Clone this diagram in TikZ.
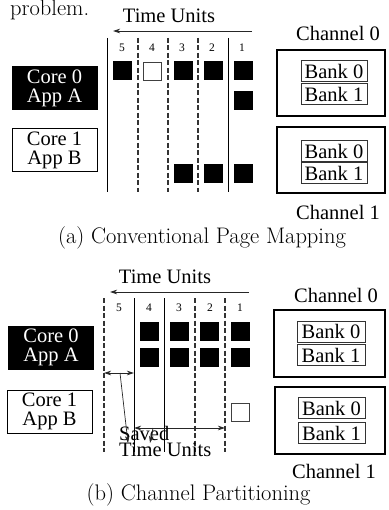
\documentclass[tikz,border=0pt]{standalone}
\usepackage{fontspec}
\newfontfamily\figfont{Liberation Serif}
\usetikzlibrary{arrows.meta}

\tikzset{
  lbl/.style={font=\figfont\fontsize{20.5}{19}\selectfont, inner sep=0pt},
  colnum/.style={font=\figfont\fontsize{11.5}{11.5}\selectfont, inner sep=0pt, anchor=base},
  caption/.style={font=\fontsize{22.5}{24}\selectfont, inner sep=0pt, anchor=base},
  corebox/.style={lbl, align=center, draw, line width=1pt,
    minimum width=85pt, minimum height=43pt},
  coreA/.style={corebox, fill=black, text=white},
  coreB/.style={corebox, fill=white},
  chanbox/.style={draw, line width=1.2pt, minimum width=108pt, minimum height=66pt},
  bankbox/.style={lbl, draw=black!80, line width=0.8pt, minimum width=66pt, minimum height=21pt},
  busy/.style={fill=black, minimum size=19pt, inner sep=0pt},
  idle/.style={draw=black!75, fill=white, line width=0.8pt, minimum size=18pt, inner sep=0pt},
  solidsep/.style={line width=0.9pt},
  dashsep/.style={line width=1.1pt, black!80, dash pattern=on 5pt off 2.5pt},
  tip/.style={-{Stealth[length=7pt,width=4.5pt,inset=2pt]}, line width=0.8pt, black!85},
  twotip/.style={{Stealth[length=7pt,width=4.5pt,inset=2pt]}-{Stealth[length=7pt,width=4.5pt,inset=2pt]}, line width=0.8pt, black!85},
}

\begin{document}
\begin{tikzpicture}[x=1pt,y=-1pt]
\useasboundingbox (0,0) rectangle (388,510);

% tail of the preceding paragraph
\node[caption, anchor=base west] (prob) at (10,15.5) {problem.};

% ================= (a) Conventional Page Mapping =================
\node[lbl, anchor=base] (tua) at (169,22.5) {Time Units};
\coordinate (tua-r) at (252,31);
\coordinate (tua-l) at (113,31);
\draw[tip] (tua-r) -- (tua-l);

% column separators
\draw[solidsep] (107,38) -- (107,192);
\draw[dashsep]  (138,38) -- (138,192);
\draw[dashsep]  (168,38) -- (168,192);
\draw[dashsep]  (198,38) -- (198,192);
\draw[solidsep] (228,38) -- (228,192);

% time-unit numbers
\foreach \n/\x in {5/122,4/152,3/182,2/212,1/242}
  \node[colnum] (na\n) at (\x,52) {\n};

% requests
\node[busy] (a51) at (122.5,71) {};
\node[idle] (a41) at (152.5,71) {};
\node[busy] (a31) at (183,71) {};
\node[busy] (a21) at (213,71) {};
\node[busy] (a11) at (243.5,71) {};
\node[busy] (a12) at (243.5,101) {};
\node[busy] (a33) at (183,174) {};
\node[busy] (a23) at (213,174) {};
\node[busy] (a13) at (243.5,174) {};

% cores
\node[coreA] (coreA0) at (54.5,88) {Core 0\\App A};
\node[coreB] (coreA1) at (54.5,150.5) {Core 1\\App B};

% channels
\node[lbl, anchor=base] (cha0lbl) at (338,41) {Channel 0};
\node[chanbox] (cha0) at (331,83) {};
\node[bankbox] (cha0b0) at (334,71) {Bank 0};
\node[bankbox] (cha0b1) at (334,94) {Bank 1};

\node[chanbox] (cha1) at (331,160) {};
\node[bankbox] (cha1b0) at (334,151) {Bank 0};
\node[bankbox] (cha1b1) at (334,173) {Bank 1};
\node[lbl, anchor=base] (cha1lbl) at (338,220) {Channel 1};

\node[caption] (capa) at (202,243) {(a) Conventional Page Mapping};

% ================= (b) Channel Partitioning =================
\node[lbl, anchor=base] (tub) at (165,283) {Time Units};
\coordinate (tub-r) at (249,292);
\coordinate (tub-l) at (110,292);
\draw[tip] (tub-r) -- (tub-l);

% column separators
\draw[dashsep]  (104,298) -- (104,452);
\draw[solidsep] (134,298) -- (134,452);
\draw[solidsep] (164.5,298) -- (164.5,452);
\draw[dashsep]  (195,298) -- (195,452);
\draw[dashsep]  (225,298) -- (225,452);

% time-unit numbers
\foreach \n/\x in {5/119,4/149,3/179,2/210,1/240}
  \node[colnum] (nb\n) at (\x,311) {\n};

% requests
\foreach \c/\x in {4/149.5,3/179.5,2/209.5,1/240.5}{
  \node[busy] (b\c1) at (\x,331.5) {};
  \node[busy] (b\c2) at (\x,357.5) {};
}
\node[idle] (b13) at (240,412.5) {};

% cores
\node[coreA] (coreB0) at (51,347.5) {Core 0\\App A};
\node[coreB] (coreB1) at (49.5,411.5) {Core 1\\App B};

% channels
\node[lbl, anchor=base] (chb0lbl) at (336,302) {Channel 0};
\node[chanbox, minimum width=111pt, minimum height=67pt] (chb0) at (329.5,343.5) {};
\node[bankbox, minimum width=68pt] (chb0b0) at (331,331.5) {Bank 0};
\node[bankbox, minimum width=68pt] (chb0b1) at (331,355) {Bank 1};

\node[chanbox, minimum width=110pt, minimum height=67pt] (chb1) at (330,420.5) {};
\node[bankbox, minimum width=67pt] (chb1b0) at (331.5,408) {Bank 0};
\node[bankbox, minimum width=67pt] (chb1b1) at (331.5,433) {Bank 1};
\node[lbl, anchor=base] (chb1lbl) at (334,478) {Channel 1};

% saved time spans
\coordinate (sv1-l) at (104,373);
\coordinate (sv1-r) at (134,373);
\draw[twotip] (sv1-l) -- (sv1-r);
\coordinate (sv2-l) at (134,428);
\coordinate (sv2-r) at (225,428);
\draw[twotip] (sv2-l) -- (sv2-r);

\node[lbl, font=\figfont\fontsize{20.5}{16.5}\selectfont, align=left, anchor=base west]
  (saved) at (119,456.5) {Saved\\Time Units};
\coordinate (sv1-src) at (120,373);
\coordinate (sv2-src) at (153,428);
\coordinate (sv1-tip) at (128,443);
\coordinate (sv2-tip) at (150,443);
\draw[tip, line width=0.7pt] (sv1-src) -- (sv1-tip);
\draw[tip, line width=0.7pt] (sv2-src) -- (sv2-tip);

\node[caption] (capb) at (198.5,500) {(b) Channel Partitioning};
\end{tikzpicture}
\end{document}
